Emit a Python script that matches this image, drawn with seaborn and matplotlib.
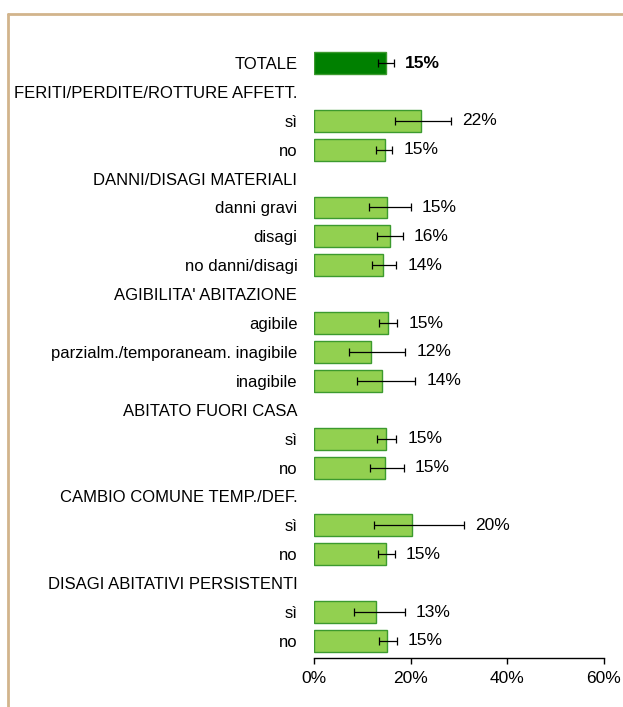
import matplotlib
matplotlib.use("Agg")
import matplotlib.pyplot as plt
import seaborn as sns
import pandas as pd
import numpy as np
from matplotlib.lines import Line2D

labels = ["TOTALE", "FERITI/PERDITE/ROTTURE AFFETT.", "sì", "no",
          "DANNI/DISAGI MATERIALI", "danni gravi", "disagi", "no danni/disagi",
          "AGIBILITA' ABITAZIONE", "agibile", "parzialm./temporaneam. inagibile", "inagibile",
          "ABITATO FUORI CASA", "sì", "no",
          "CAMBIO COMUNE TEMP./DEF.", "sì", "no",
          "DISAGI ABITATIVI PERSISTENTI", "sì", "no"]
values = [14.9, None, 22.1, 14.6,
          None, 15.1, 15.7, 14.3,
          None, 15.3, 11.8, 14.0,
          None, 14.9, 14.6,
          None, 20.2, 14.9,
          None, 12.8, 15.1]
err_low = [13.2, None, 16.8, 12.8,
           None, 11.4, 13.0, 12.0,
           None, 13.4, 7.2, 9.0,
           None, 13.0, 11.6,
           None, 12.4, 13.2,
           None, 8.3, 13.5]
err_high = [16.6, None, 28.4, 16.2,
            None, 20.0, 18.4, 17.0,
            None, 17.2, 18.9, 20.9,
            None, 17.0, 18.6,
            None, 31.0, 16.7,
            None, 18.8, 17.1]
value_text = ["15%", None, "22%", "15%",
              None, "15%", "16%", "14%",
              None, "15%", "12%", "14%",
              None, "15%", "15%",
              None, "20%", "15%",
              None, "13%", "15%"]
xticks = [0, 20, 40, 60]
xtick_labels = ["0%", "20%", "40%", "60%"]

sns.set_style("white")
plt.rcParams['font.family'] = ['Liberation Sans', 'DejaVu Sans']
plt.rcParams['text.color'] = 'black'
plt.rcParams['xtick.color'] = 'black'
plt.rcParams['ytick.color'] = 'black'

keys = [f"r{i}" for i in range(len(labels))]
df = pd.DataFrame({"key": keys, "value": values, "kind": ["tot"] + ["sub"] * (len(labels) - 1)})
df_bars = df.dropna(subset=["value"])

fig = plt.figure(figsize=(6.23, 7.07), dpi=100)
ax = fig.add_axes([0.504, 0.0693, 0.4655, 0.8657])

sns.barplot(data=df_bars, y="key", x="value", hue="kind", order=keys,
            palette={"tot": "#008000", "sub": "#92D050"}, errorbar=None, saturation=1,
            width=0.76, legend=False, ax=ax, linewidth=1.0, edgecolor="#3C9A2E", dodge=False)

ypos = np.arange(len(labels))
for i, (v, lo, hi, t) in enumerate(zip(values, err_low, err_high, value_text)):
    if v is None:
        continue
    ax.errorbar(v, i, xerr=[[v - lo], [hi - v]], fmt="none", ecolor="black",
                elinewidth=0.9, capsize=3.2, capthick=0.9, zorder=5)
    ax.text(hi + 2.3, i, t, va="center", ha="left", fontsize=12.5,
            fontweight="bold" if i == 0 else "normal", color="black")

ax.set_xlim(0, 60)
ax.set_ylim(len(labels) - 1 + 0.59, -0.59)
ax.set_xticks(xticks)
ax.set_xticklabels(xtick_labels, fontsize=12.5)
ax.set_yticks(ypos)
ax.set_yticklabels(labels, fontsize=12)
ax.set_xlabel("")
ax.set_ylabel("")
for s in ["top", "right", "left"]:
    ax.spines[s].set_visible(False)
ax.spines["bottom"].set_color("black")
ax.spines["bottom"].set_linewidth(1.0)
ax.tick_params(axis="x", bottom=True, direction="out", length=4, width=1, color="black", pad=5)
ax.tick_params(axis="y", left=False, length=0, pad=12)

# frame lines (top and left)
fig.add_artist(Line2D([7.5 / 623, 1.0], [1 - 14 / 707, 1 - 14 / 707],
                      transform=fig.transFigure, color="#D2B48C", linewidth=2))
fig.add_artist(Line2D([7.5 / 623, 7.5 / 623], [0, 1 - 14 / 707],
                      transform=fig.transFigure, color="#D2B48C", linewidth=2))

fig.savefig("out.png", dpi=100)
